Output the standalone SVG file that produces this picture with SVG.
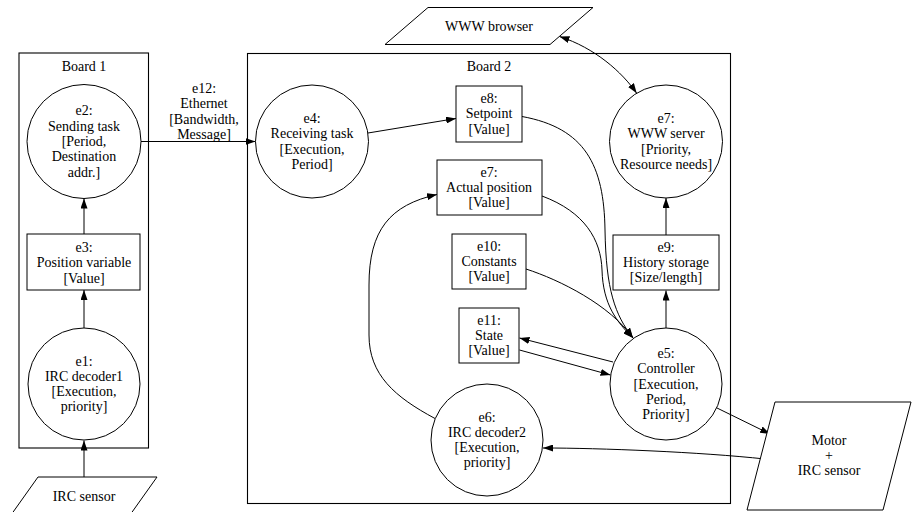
<svg xmlns="http://www.w3.org/2000/svg" width="912" height="512" viewBox="0 0 912 512">
<defs>
<marker id="ah" viewBox="0 0 10 7" refX="10" refY="3.5" markerWidth="10" markerHeight="7" markerUnits="userSpaceOnUse" orient="auto-start-reverse">
<path d="M0,0 L10,3.5 L0,7 z" fill="#000"/>
</marker>
<style>
text{font-family:"Liberation Serif","Times New Roman",serif;font-size:14px;fill:#000;text-anchor:middle}
.n{fill:#fff;stroke:#000;stroke-width:1}
.c{fill:none;stroke:#000;stroke-width:1;stroke-width:1.1}
.e{fill:none;stroke:#000;stroke-width:1;marker-end:url(#ah)}
.b{fill:none;stroke:#000;stroke-width:1;marker-end:url(#ah);marker-start:url(#ah)}
</style>
</defs>
<rect width="912" height="512" fill="#fff"/>

<g id="board1">
<rect class="c" x="19" y="53" width="129.5" height="395"/>
<text x="84" y="70.5">Board 1</text>
</g>
<g id="board2">
<rect class="c" x="247.5" y="53.5" width="483" height="450"/>
<text x="489" y="70.5">Board 2</text>
</g>

<g id="connectors">
<path class="e" d="M84,477 L84,440.5"/>
<path class="e" d="M84,328 L84,290"/>
<path class="e" d="M84,234 L84,198.5"/>
<path class="e" d="M141,141.5 L255.5,141.5"/>
<text x="204" y="93">e12:</text>
<text x="204" y="108.3">Ethernet</text>
<text x="204" y="123.6">[Bandwidth,</text>
<text x="204" y="138.9">Message]</text>
<path class="e" d="M368,133 L456,118.5"/>
<path class="e" d="M435,418.5 C395,397 369,375 369,335 L369,285 C369,230 390,205 437,194.5"/>
<path class="e" d="M522,116.5 C585,128 604,165 605,230 C606,290 615,315 633,338"/>
<path class="e" d="M542,196 C585,212 601,240 602,270 C603,305 617,322 633,338"/>
<path class="e" d="M526,269 C560,280 610,305 633,338"/>
<path class="e" d="M613,362 L519.5,338"/>
<path class="e" d="M519.5,350 L610.5,375"/>
<path class="e" d="M666,328 L666,290.5"/>
<path class="e" d="M666,235 L666,198"/>
<path class="b" d="M559.5,36.5 C595,48 622,72 636.7,93.3"/>
<path class="e" d="M716,407.5 L770,434"/>
<path class="e" d="M765,459 C700,452 600,448 543,448"/>
</g>

<g id="irc_sensor">
<polygon class="n" points="38,477 157,477 130,515 11,515"/>
<text x="84" y="500.5">IRC sensor</text>
</g>
<g id="e1">
<circle class="n" cx="84" cy="384" r="56"/>
<text x="84" y="365.5">e1:</text>
<text x="84" y="380.8">IRC decoder1</text>
<text x="84" y="396.1">[Execution,</text>
<text x="84" y="411.4">priority]</text>
</g>
<g id="e3">
<rect class="n" x="27" y="234" width="113" height="56"/>
<text x="84" y="252">e3:</text>
<text x="84" y="267.3">Position variable</text>
<text x="84" y="282.6">[Value]</text>
</g>
<g id="e2">
<circle class="n" cx="84" cy="141.5" r="57"/>
<text x="84" y="115.4">e2:</text>
<text x="84" y="130.7">Sending task</text>
<text x="84" y="146">[Period,</text>
<text x="84" y="161.3">Destination</text>
<text x="84" y="176.6">addr.]</text>
</g>
<g id="e4">
<circle class="n" cx="312" cy="141.5" r="56.5"/>
<text x="312" y="123">e4:</text>
<text x="312" y="138.3">Receiving task</text>
<text x="312" y="153.6">[Execution,</text>
<text x="312" y="168.9">Period]</text>
</g>
<g id="e8">
<rect class="n" x="456" y="86" width="66" height="56"/>
<text x="489" y="103">e8:</text>
<text x="489" y="118.3">Setpoint</text>
<text x="489" y="133.6">[Value]</text>
</g>
<g id="e7_actual">
<rect class="n" x="437" y="160" width="105" height="55"/>
<text x="489" y="176.7">e7:</text>
<text x="489" y="192">Actual position</text>
<text x="489" y="207.3">[Value]</text>
</g>
<g id="e10">
<rect class="n" x="452" y="234" width="74" height="55"/>
<text x="489" y="250.7">e10:</text>
<text x="489" y="266">Constants</text>
<text x="489" y="281.3">[Value]</text>
</g>
<g id="e11">
<rect class="n" x="459" y="308" width="60" height="55"/>
<text x="489" y="324.7">e11:</text>
<text x="489" y="340">State</text>
<text x="489" y="355.3">[Value]</text>
</g>
<g id="e6">
<circle class="n" cx="487" cy="440" r="56"/>
<text x="487" y="421.5">e6:</text>
<text x="487" y="436.8">IRC decoder2</text>
<text x="487" y="452.1">[Execution,</text>
<text x="487" y="467.4">priority]</text>
</g>
<g id="www_browser">
<polygon class="n" points="428,7.5 593,7.5 550,44.5 385,44.5"/>
<text x="489" y="31">WWW browser</text>
</g>
<g id="e7_server">
<circle class="n" cx="666" cy="141.5" r="56.5"/>
<text x="666" y="123">e7:</text>
<text x="666" y="138.3">WWW server</text>
<text x="666" y="153.6">[Priority,</text>
<text x="666" y="168.9">Resource needs]</text>
</g>
<g id="e9">
<rect class="n" x="613" y="235" width="106" height="55"/>
<text x="666" y="251.7">e9:</text>
<text x="666" y="267">History storage</text>
<text x="666" y="282.3">[Size/length]</text>
</g>
<g id="e5">
<circle class="n" cx="666" cy="384" r="56"/>
<text x="666" y="358">e5:</text>
<text x="666" y="373.3">Controller</text>
<text x="666" y="388.6">[Execution,</text>
<text x="666" y="403.9">Period,</text>
<text x="666" y="419.2">Priority]</text>
</g>
<g id="motor">
<polygon class="n" points="775,402 911,402 883,510 747,510"/>
<text x="829" y="444.5">Motor</text>
<text x="829" y="459.8">+</text>
<text x="829" y="475.1">IRC sensor</text>
</g>
</svg>
